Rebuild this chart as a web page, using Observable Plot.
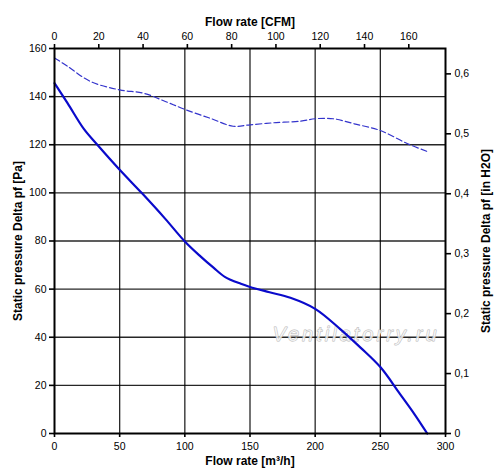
<!DOCTYPE html>
<html>
<head>
<meta charset="utf-8">
<script src="https://cdn.jsdelivr.net/npm/d3@7"></script>
<script src="https://cdn.jsdelivr.net/npm/@observablehq/plot@0.6"></script>
<style>
  html, body { margin: 0; padding: 0; background: #fff; }
</style>
</head>
<body>
<div id="chart"></div>
<script>
// Solid curve: static pressure [Pa] vs flow rate [m³/h]
const pressureFlow = [0, 10, 22.5, 32.7, 50, 67, 85, 100, 112, 122, 131, 143, 150, 165, 181, 200, 219, 235, 250, 265, 276, 286];
const pressurePa   = [145.6, 137.3, 126.6, 120.1, 109.6, 99.9, 89.2, 79.8, 73.6, 68.9, 65.0, 62.2, 60.9, 58.7, 56.4, 51.8, 43.5, 35.6, 27.6, 16.5, 8.2, 0];

// Dashed curve (read in left-axis units)
const dashedFlow  = [0, 10, 27.6, 50, 68.5, 85, 100, 120, 137, 150, 170, 189, 200, 214, 230, 250, 271, 286];
const dashedValue = [156.1, 152.6, 146.3, 142.8, 141.4, 138.0, 134.7, 130.9, 127.7, 128.3, 129.2, 129.8, 130.8, 130.8, 128.7, 125.9, 120.4, 117.2];

// Axis ticks
const xTicks    = [0, 50, 100, 150, 200, 250, 300];
const yTicks    = [0, 20, 40, 60, 80, 100, 120, 140, 160];
const cfmTicks  = [0, 20, 40, 60, 80, 100, 120, 140, 160];
const inH2OTicks = [0, 0.1, 0.2, 0.3, 0.4, 0.5, 0.6];

// Unit conversions
const M3H_PER_CFM = 1.69901;
const PA_PER_INH2O = 249.089;

const titles = {
  top: "Flow rate [CFM]",
  bottom: "Flow rate [m³/h]",
  left: "Static pressure Delta pf [Pa]",
  right: "Static pressure Delta pf [in H2O]"
};
const watermark = "Ventilatorry.ru";

const solid = pressureFlow.map((q, i) => ({q, p: pressurePa[i]}));
const dashed = dashedFlow.map((q, i) => ({q, p: dashedValue[i]}));

const fmtIn = d => {
  const v = Math.round(d / PA_PER_INH2O * 10) / 10;
  return v === 0 ? "0" : v.toFixed(1).replace(".", ",");
};

const titleStyle = {text: d => d, fontWeight: "bold", fontSize: 12, fill: "#000", textAnchor: "middle"};

const chart = Plot.plot({
  width: 500,
  height: 473,
  marginLeft: 54,
  marginRight: 55,
  marginTop: 48,
  marginBottom: 40,
  style: {fontFamily: "'Liberation Sans', Arial, sans-serif", fontSize: "10.5px", color: "#000", background: "#fff"},
  x: {domain: [0, 300]},
  y: {domain: [0, 160]},
  marks: [
    Plot.gridX(xTicks.slice(1, -1), {stroke: "#000", strokeOpacity: 0.85, strokeWidth: 1.3}),
    Plot.gridY(yTicks.slice(1, -1), {stroke: "#000", strokeOpacity: 0.85, strokeWidth: 1.3}),
    Plot.text([watermark], {
      frameAnchor: "middle", dx: 106, dy: 94, text: d => d,
      fontSize: 20, fontStyle: "italic", fill: "#fff", fillOpacity: 0.7,
      stroke: "#b8b8b8", strokeWidth: 0.9, textAnchor: "middle", className: "wm"
    }),
    Plot.line(dashed, {x: "q", y: "p", curve: "catmull-rom", stroke: "#3434cc", strokeWidth: 1.2, strokeDasharray: "6,3"}),
    Plot.line(solid, {x: "q", y: "p", curve: "catmull-rom", stroke: "#0a0acb", strokeWidth: 2.2}),
    Plot.frame({stroke: "#000", strokeWidth: 2}),
    Plot.axisX(xTicks, {anchor: "bottom", label: null, tickSize: 4, tickPadding: 5, strokeWidth: 1.6}),
    Plot.axisY(yTicks, {anchor: "left", label: null, tickSize: 5, tickPadding: 3, strokeWidth: 1.6}),
    Plot.axisX(cfmTicks.map(c => c * M3H_PER_CFM), {anchor: "top", label: null, tickSize: 5, tickPadding: 4, strokeWidth: 1.6,
      tickFormat: d => String(Math.round(d / M3H_PER_CFM))}),
    Plot.axisY(inH2OTicks.map(v => v * PA_PER_INH2O), {anchor: "right", label: null, tickSize: 5, tickPadding: 4, strokeWidth: 1.6,
      tickFormat: fmtIn}),
    Plot.text([titles.top], {...titleStyle, frameAnchor: "top", dy: -31}),
    Plot.text([titles.bottom], {...titleStyle, frameAnchor: "bottom", dy: 31}),
    Plot.text([titles.left], {...titleStyle, frameAnchor: "left", dx: -36, rotate: -90}),
    Plot.text([titles.right], {...titleStyle, frameAnchor: "right", dx: 41, rotate: -90})
  ]
});
d3.select(chart).selectAll(".wm text").attr("letter-spacing", "3px");
document.getElementById("chart").append(chart);
</script>
</body>
</html>
